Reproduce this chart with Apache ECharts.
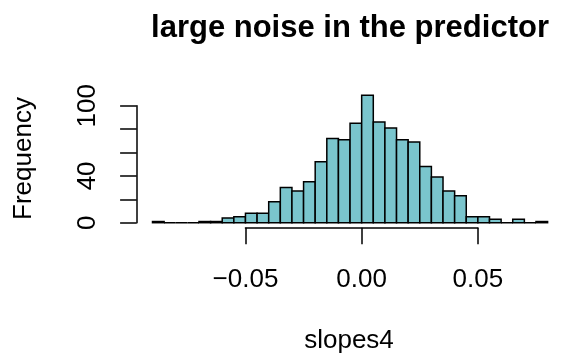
<!DOCTYPE html>
<html>
<head>
<meta charset="utf-8">
<script src="https://cdn.jsdelivr.net/npm/echarts@6/dist/echarts.min.js"></script>
<style>
  html, body { margin: 0; padding: 0; background: #fff; }
  #chart { width: 562px; height: 355px; }
</style>
</head>
<body>
<div id="chart"></div>
<script>
// Histogram of slopes4: bin breaks and counts per bin
const breaks = [-0.090, -0.085, -0.080, -0.075, -0.070, -0.065, -0.060, -0.055, -0.050,
  -0.045, -0.040, -0.035, -0.030, -0.025, -0.020, -0.015, -0.010, -0.005, 0.000,
  0.005, 0.010, 0.015, 0.020, 0.025, 0.030, 0.035, 0.040, 0.045, 0.050,
  0.055, 0.060, 0.065, 0.070, 0.075, 0.080];
const counts = [1, 0, 0, 0, 1, 1, 4, 5, 8, 8, 18, 30, 27, 35, 52, 72, 71, 85,
  109, 86, 81, 71, 69, 48, 39, 27, 23, 5, 5, 3, 0, 3, 0, 1];
const xTicks = [-0.05, 0.00, 0.05];
const yTicks = [0, 20, 40, 60, 80, 100];
const yLabelled = [0, 40, 100];

const W = 562, H = 355;
const FONT = "'Liberation Sans', Arial, Helvetica, sans-serif";
const FILL = '#7AC5CD';
const LW = 1.5;

// plot geometry
const gridLeft = 152.5, gridRight = 14.4, gridTop = 105.7, gridBottom = 132.3;
const xMin = breaks[0], xMax = breaks[breaks.length - 1];
const pxPerUnit = (W - gridLeft - gridRight) / (xMax - xMin);
const tickLeft = gridLeft + (xTicks[0] - xMin) * pxPerUnit;
const tickRight = W - (gridLeft + (xTicks[xTicks.length - 1] - xMin) * pxPerUnit);

const bins = counts.map((c, i) => [breaks[i], breaks[i + 1], c]);

const chart = echarts.init(document.getElementById('chart'), null, { renderer: 'canvas' });

const fmtX = v => {
  const s = Math.abs(v).toFixed(2);
  return v < -1e-9 ? '\u2212' + s : s;
};

chart.setOption({
  animation: false,
  backgroundColor: '#ffffff',
  textStyle: { fontFamily: FONT },
  title: {
    text: 'large noise in the predictor',
    left: 345, textAlign: 'center', top: 8,
    textStyle: { fontFamily: FONT, fontSize: 31, fontWeight: 'bold', color: '#000' }
  },
  grid: [
    { left: gridLeft, right: gridRight, top: gridTop, bottom: gridBottom },
    { left: tickLeft, right: tickRight, top: gridTop, bottom: gridBottom - 5 }
  ],
  xAxis: [
    {
      gridIndex: 0, type: 'value', min: xMin, max: xMax,
      axisLine: { show: false }, axisTick: { show: false },
      axisLabel: { show: false }, splitLine: { show: false }
    },
    {
      gridIndex: 1, type: 'value', min: xTicks[0], max: xTicks[xTicks.length - 1],
      interval: xTicks[1] - xTicks[0],
      axisLine: { show: true, onZero: false, lineStyle: { color: '#000', width: LW } },
      axisTick: { show: true, inside: false, length: 16.6, lineStyle: { color: '#000', width: LW } },
      axisLabel: {
        show: true, margin: 39, fontFamily: FONT, fontSize: 26, color: '#000',
        formatter: fmtX
      },
      splitLine: { show: false }
    }
  ],
  yAxis: [
    {
      gridIndex: 0, type: 'value', min: yTicks[0], max: yTicks[yTicks.length - 1],
      interval: yTicks[1] - yTicks[0], offset: gridLeft - 136.7,
      axisLine: { show: true, onZero: false, lineStyle: { color: '#000', width: LW } },
      axisTick: { show: true, length: 16.6, lineStyle: { color: '#000', width: LW } },
      axisLabel: {
        show: true, rotate: 90, margin: 36, fontFamily: FONT, fontSize: 26, color: '#000',
        formatter: v => (yLabelled.indexOf(v) >= 0 ? String(v) : '')
      },
      splitLine: { show: false }
    },
    { gridIndex: 1, type: 'value', show: false }
  ],
  series: [{
    type: 'custom',
    xAxisIndex: 0, yAxisIndex: 0,
    clip: false,
    data: bins,
    encode: { x: [0, 1], y: 2 },
    renderItem: function (params, api) {
      const p0 = api.coord([api.value(0), api.value(2)]);
      const p1 = api.coord([api.value(1), 0]);
      return {
        type: 'rect',
        shape: { x: p0[0], y: p0[1], width: p1[0] - p0[0], height: p1[1] - p0[1] },
        style: { fill: FILL, stroke: '#000', lineWidth: LW }
      };
    }
  }],
  graphic: [
    {
      type: 'text', x: 349, y: 341,
      style: { text: 'slopes4', font: '26px ' + FONT, fill: '#000', align: 'center', verticalAlign: 'middle' }
    },
    {
      type: 'text', x: 24, y: 158.5, rotation: Math.PI / 2,
      style: { text: 'Frequency', font: '26px ' + FONT, fill: '#000', align: 'center', verticalAlign: 'middle' }
    }
  ]
});
</script>
</body>
</html>
